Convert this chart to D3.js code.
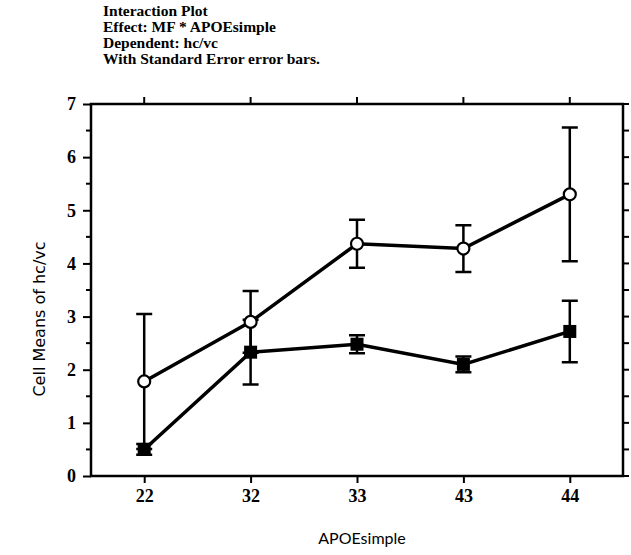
<!DOCTYPE html>
<html>
<head>
<meta charset="utf-8">
<script src="https://cdn.jsdelivr.net/npm/d3@7"></script>
<style>
  body { margin: 0; background: #fff; }
</style>
</head>
<body>
<div id="chart"></div>
<script>
var groups = ["22", "32", "33", "43", "44"];
// open circles
var meanA = [1.78, 2.9, 4.37, 4.28, 5.3];
var seA = [1.27, 0.58, 0.45, 0.44, 1.26];
// filled squares
var meanB = [0.5, 2.33, 2.48, 2.1, 2.72];
var seB = [0.1, 0.61, 0.17, 0.15, 0.58];
var titleLines = ["Interaction Plot", "Effect: MF * APOEsimple", "Dependent: hc/vc", "With Standard Error error bars."];

var width = 631, height = 555;
var margin = {top: 104, right: 8, bottom: 79, left: 91};

var svg = d3.select("#chart").append("svg")
  .attr("width", width)
  .attr("height", height);

var x = d3.scalePoint()
  .domain(groups)
  .range([margin.left, width - margin.right])
  .padding(0.5);

var y = d3.scaleLinear()
  .domain([0, 7])
  .range([height - margin.bottom, margin.top]);

// frame
svg.append("rect")
  .attr("x", margin.left).attr("y", margin.top)
  .attr("width", width - margin.right - margin.left)
  .attr("height", height - margin.bottom - margin.top)
  .attr("fill", "none").attr("stroke", "#000").attr("stroke-width", 2.5);

var halfTicks = d3.range(0, 7.01, 0.5);

// left axis
var yAxis = svg.append("g")
  .attr("transform", "translate(" + margin.left + ",0)")
  .attr("font-weight", "bold")
  .call(d3.axisLeft(y).ticks(7).tickSize(8).tickPadding(7));
yAxis.attr("font-family", "'Liberation Serif', serif").attr("font-size", 18);
yAxis.select(".domain").remove();
yAxis.selectAll(".tick line").attr("stroke-width", 2);
svg.append("g").selectAll("line")
  .data(halfTicks.filter(function(d) { return d % 1 != 0; }))
  .enter().append("line")
  .attr("x1", margin.left - 5).attr("x2", margin.left)
  .attr("y1", function(d) { return y(d); }).attr("y2", function(d) { return y(d); })
  .attr("stroke", "#000").attr("stroke-width", 2);

// right ticks
svg.append("g").selectAll("line")
  .data(halfTicks)
  .enter().append("line")
  .attr("x1", width - margin.right).attr("x2", width - margin.right + 6)
  .attr("y1", function(d) { return y(d); }).attr("y2", function(d) { return y(d); })
  .attr("stroke", "#000").attr("stroke-width", 2);

// bottom axis
var xAxis = svg.append("g")
  .attr("transform", "translate(0," + (height - margin.bottom) + ")")
  .attr("font-weight", "bold")
  .call(d3.axisBottom(x).tickSize(7).tickPadding(6));
xAxis.attr("font-family", "'Liberation Serif', serif").attr("font-size", 18);
xAxis.select(".domain").remove();
xAxis.selectAll(".tick line").attr("stroke-width", 2);

// top ticks
svg.append("g").selectAll("line")
  .data(groups)
  .enter().append("line")
  .attr("x1", function(d) { return x(d); }).attr("x2", function(d) { return x(d); })
  .attr("y1", margin.top).attr("y2", margin.top - 7)
  .attr("stroke", "#000").attr("stroke-width", 2);

// title
svg.append("g").selectAll("text")
  .data(titleLines)
  .enter().append("text")
  .attr("x", 103)
  .attr("y", function(d, i) { return 16 + i * 16; })
  .style("font-family", "'Liberation Serif', serif")
  .style("font-weight", "bold")
  .style("font-size", "15.5px")
  .text(function(d) { return d; });

// axis labels
svg.append("text")
  .attr("x", 362)
  .attr("y", 544)
  .attr("text-anchor", "middle")
  .style("font-family", "Lato, sans-serif")
  .style("font-size", "16px")
  .text("APOEsimple");

svg.append("text")
  .attr("transform", "translate(45," + 319 + ") rotate(-90)")
  .attr("text-anchor", "middle")
  .style("font-family", "'DejaVu Sans', sans-serif")
  .style("font-size", "16px")
  .text("Cell Means of hc/vc");

function drawSeries(means, ses, shape) {
  var g = svg.append("g");
  var line = d3.line()
    .x(function(d, i) { return x(groups[i]); })
    .y(function(d) { return y(d); });

  g.selectAll(".err").data(means).enter().append("path")
    .attr("d", function(d, i) {
      var cx = x(groups[i]), hi = y(d + ses[i]), lo = y(d - ses[i]);
      return "M" + cx + "," + hi + "V" + lo +
        "M" + (cx - 8) + "," + hi + "H" + (cx + 8) +
        "M" + (cx - 8) + "," + lo + "H" + (cx + 8);
    })
    .attr("fill", "none").attr("stroke", "#000").attr("stroke-width", 2.5);

  g.append("path").datum(means)
    .attr("d", line)
    .attr("fill", "none").attr("stroke", "#000").attr("stroke-width", 3.5);

  if (shape == "circle") {
    g.selectAll("circle").data(means).enter().append("circle")
      .attr("cx", function(d, i) { return x(groups[i]); })
      .attr("cy", function(d) { return y(d); })
      .attr("r", 6)
      .attr("fill", "#fff").attr("stroke", "#000").attr("stroke-width", 2.2);
  } else {
    g.selectAll("rect").data(means).enter().append("rect")
      .attr("x", function(d, i) { return x(groups[i]) - 6.5; })
      .attr("y", function(d) { return y(d) - 6.5; })
      .attr("width", 13).attr("height", 13)
      .attr("fill", "#000");
  }
}

drawSeries(meanB, seB, "square");
drawSeries(meanA, seA, "circle");
</script>
</body>
</html>
